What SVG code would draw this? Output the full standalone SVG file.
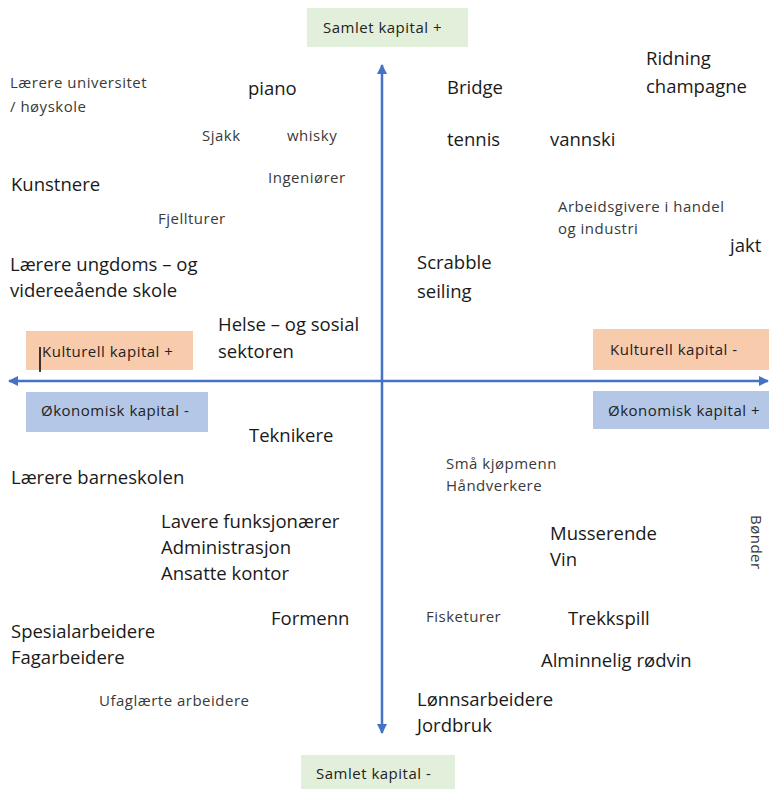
<svg xmlns="http://www.w3.org/2000/svg" width="769" height="789" viewBox="0 0 769 789">
<style>
text{font-family:"Open Sans","Liberation Sans",sans-serif;fill:#1a1a1a}
.l{font-size:18.5px}
.s{font-size:15px;fill:#3a3a3a;letter-spacing:0.5px}
.b{font-size:15px;fill:#222;letter-spacing:0.5px}
.ax{stroke:#4472c4;stroke-width:2.5;fill:none}
</style>
<defs>
<marker id="ah" viewBox="0 0 10 10" refX="9" refY="5" markerWidth="4" markerHeight="4" orient="auto" markerUnits="strokeWidth">
<path d="M0,0 L10,5 L0,10 z" fill="#4472c4"/>
</marker>
</defs>
<rect width="769" height="789" fill="#fff"/>
<g id="connectors">
<line class="ax" x1="382" y1="381" x2="382" y2="65" marker-end="url(#ah)"/>
<line class="ax" x1="382" y1="381" x2="382" y2="733" marker-end="url(#ah)"/>
<line class="ax" x1="382" y1="381" x2="9" y2="381" marker-end="url(#ah)"/>
<line class="ax" x1="382" y1="381" x2="768" y2="381" marker-end="url(#ah)"/>
</g>
<g id="samlet-pluss"><rect x="307" y="8" width="161" height="39" fill="#e2efda"/><text class="b" x="323" y="33">Samlet kapital +</text></g>
<g id="samlet-minus"><rect x="301" y="755" width="154" height="34" fill="#e2efda"/><text class="b" x="316" y="779">Samlet kapital -</text></g>
<g id="kulturell-pluss"><rect x="26" y="331" width="167" height="39" fill="#f8cbad"/><text class="b" x="42" y="357">Kulturell kapital +</text><line x1="40" y1="347" x2="40" y2="372" stroke="#000" stroke-width="1.5"/></g>
<g id="okonomisk-minus"><rect x="26" y="392" width="182" height="40" fill="#b4c7e7"/><text class="b" x="41" y="416">Økonomisk kapital -</text></g>
<g id="kulturell-minus"><rect x="593" y="329" width="176" height="41" fill="#f8cbad"/><text class="b" x="610" y="355">Kulturell kapital -</text></g>
<g id="okonomisk-pluss"><rect x="593" y="391" width="176" height="38" fill="#b4c7e7"/><text class="b" x="608" y="416">Økonomisk kapital +</text></g>

<g id="laerere-uni"><text class="s" x="10" y="88">Lærere universitet</text><text class="s" x="10" y="112">/ høyskole</text></g>
<g id="piano"><text class="l" x="248" y="95">piano</text></g>
<g id="sjakk"><text class="s" x="202" y="141">Sjakk</text></g>
<g id="whisky"><text class="s" x="287" y="141">whisky</text></g>
<g id="ingeniorer"><text class="s" x="268" y="183">Ingeniører</text></g>
<g id="kunstnere"><text class="l" x="11" y="191">Kunstnere</text></g>
<g id="fjellturer"><text class="s" x="158" y="224">Fjellturer</text></g>
<g id="laerere-ungdom"><text class="l" x="10" y="271">Lærere ungdoms – og</text><text class="l" x="10" y="297">videreeående skole</text></g>
<g id="helse"><text class="l" x="218" y="331">Helse – og sosial</text><text class="l" x="218" y="358">sektoren</text></g>
<g id="bridge"><text class="l" x="447" y="94">Bridge</text></g>
<g id="ridning"><text class="l" x="646" y="65">Ridning</text><text class="l" x="646" y="93">champagne</text></g>
<g id="tennis"><text class="l" x="447" y="146">tennis</text></g>
<g id="vannski"><text class="l" x="550" y="146">vannski</text></g>
<g id="arbeidsgivere"><text class="s" x="558" y="212">Arbeidsgivere i handel</text><text class="s" x="558" y="234">og industri</text></g>
<g id="jakt"><text class="l" x="730" y="252">jakt</text></g>
<g id="scrabble"><text class="l" x="417" y="269">Scrabble</text><text class="l" x="417" y="298">seiling</text></g>
<g id="teknikere"><text class="l" x="249" y="442">Teknikere</text></g>
<g id="laerere-barn"><text class="l" x="11" y="484">Lærere barneskolen</text></g>
<g id="lavere"><text class="l" x="161" y="528">Lavere funksjonærer</text><text class="l" x="161" y="554">Administrasjon</text><text class="l" x="161" y="580">Ansatte kontor</text></g>
<g id="formenn"><text class="l" x="271" y="625">Formenn</text></g>
<g id="spesial"><text class="l" x="11" y="638">Spesialarbeidere</text><text class="l" x="11" y="664">Fagarbeidere</text></g>
<g id="ufaglaerte"><text class="s" x="99" y="706">Ufaglærte arbeidere</text></g>
<g id="sma-kjopmenn"><text class="s" x="446" y="469">Små kjøpmenn</text><text class="s" x="446" y="491">Håndverkere</text></g>
<g id="musserende"><text class="l" x="550" y="540">Musserende</text><text class="l" x="550" y="566">Vin</text></g>
<g id="fisketurer"><text class="s" x="426" y="622">Fisketurer</text></g>
<g id="trekkspill"><text class="l" x="568" y="625">Trekkspill</text></g>
<g id="rodvin"><text class="l" x="541" y="667">Alminnelig rødvin</text></g>
<g id="lonnsarbeidere"><text class="l" x="417" y="706">Lønnsarbeidere</text><text class="l" x="417" y="732">Jordbruk</text></g>
<g id="bonder"><text class="s" x="0" y="0" transform="translate(751,515) rotate(90)">Bønder</text></g>
</svg>
